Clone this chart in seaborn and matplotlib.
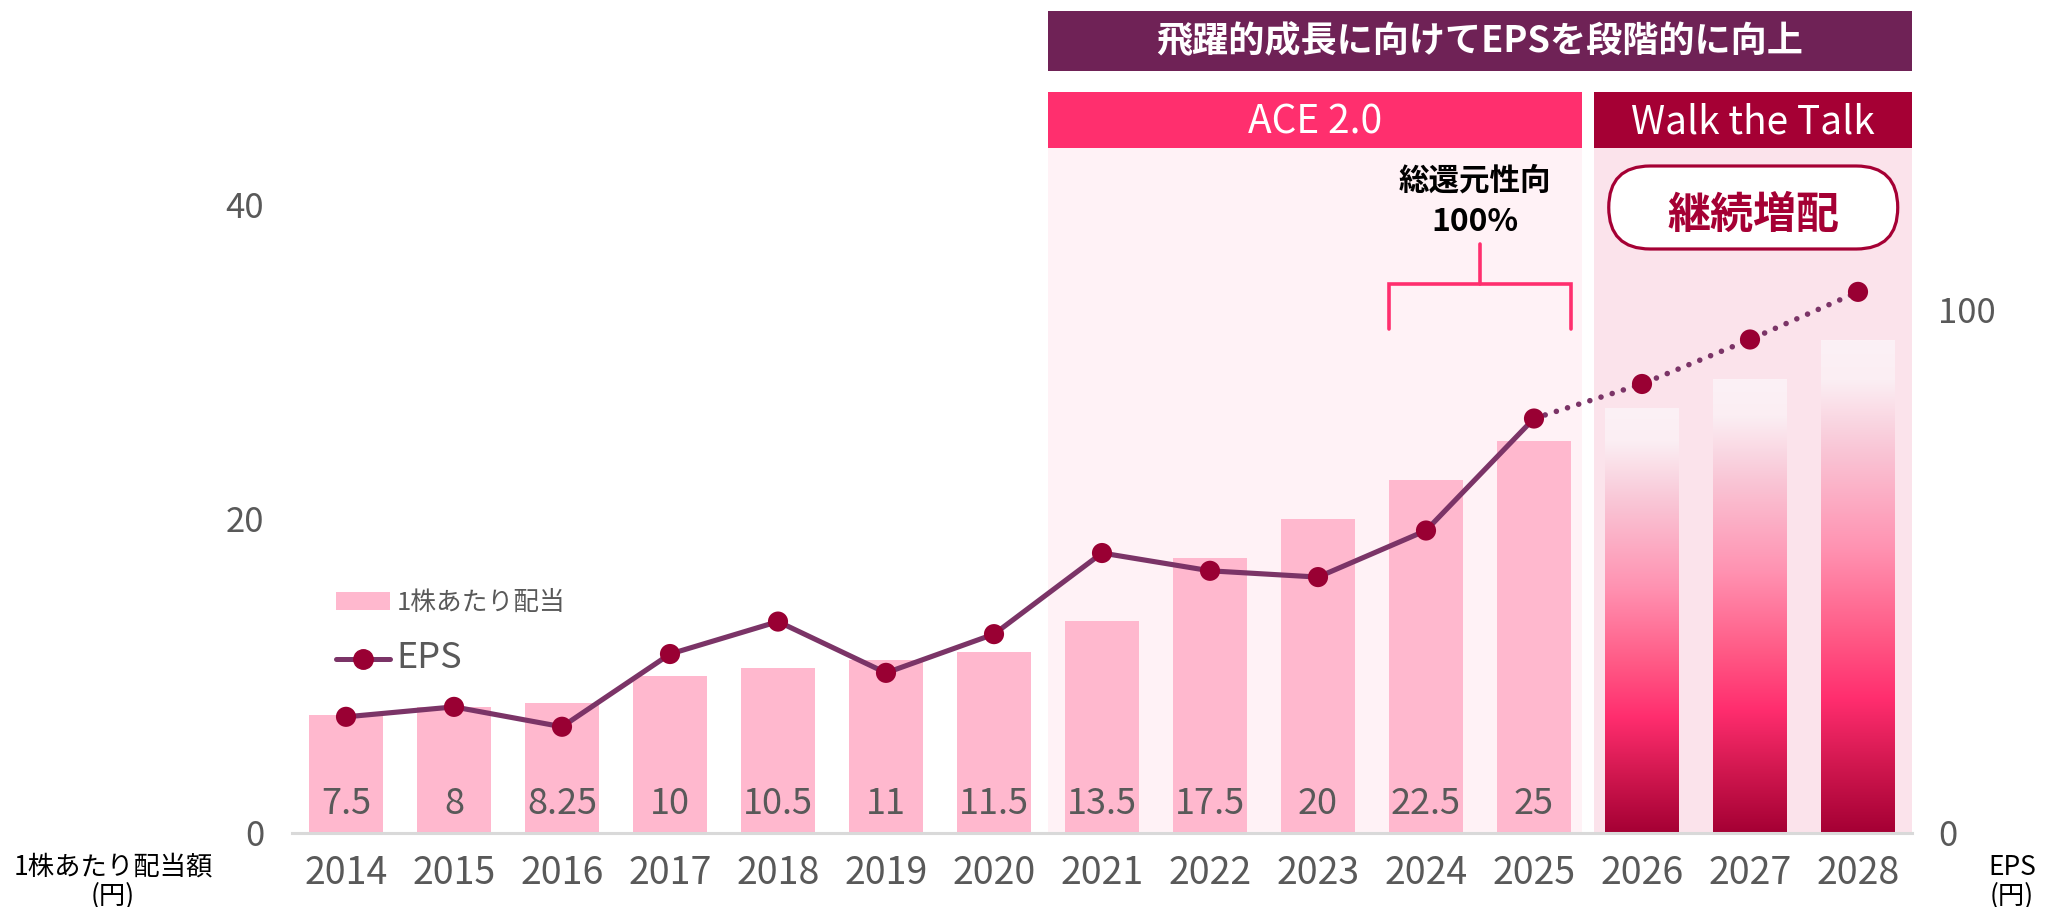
import numpy as np
import matplotlib
matplotlib.use("Agg")
import matplotlib.pyplot as plt
import seaborn as sns
from matplotlib.patches import Rectangle, FancyBboxPatch, Patch
from matplotlib.lines import Line2D
from matplotlib.colors import LinearSegmentedColormap

# ---------------- data ----------------
years = [2014, 2015, 2016, 2017, 2018, 2019, 2020, 2021, 2022, 2023, 2024, 2025, 2026, 2027, 2028]
dividends = [7.5, 8, 8.25, 10, 10.5, 11, 11.5, 13.5, 17.5, 20, 22.5, 25, 27.1, 28.9, 31.4]
dividend_labels = ["7.5", "8", "8.25", "10", "10.5", "11", "11.5", "13.5", "17.5", "20", "22.5", "25"]
eps = [22.2, 24.1, 20.3, 34.2, 40.4, 30.6, 38.0, 53.5, 50.1, 48.9, 57.8, 79.2, 85.8, 94.3, 103.4]
n_actual = 12

title_text = "飛躍的成長に向けてEPSを段階的に向上"
phase_labels = ["ACE 2.0", "Walk the Talk"]
bracket_lines = ["総還元性向", "100%"]
badge_text = "継続増配"
legend_labels = ["1株あたり配当", "EPS"]
left_ticks = [0, 20, 40]
right_ticks = [0, 100]
left_title = "1株あたり配当額\n(円)"
right_title = "EPS\n(円)"

# ---------------- colours ----------------
bar_color = "#FFB8CE"
line_color = "#7B3467"
marker_color = "#990033"
ace_shade = "#FFF2F6"
wtt_shade = "#FBE3EB"
ace_color = "#FF2F6E"
wtt_color = "#A50034"
title_color = "#6F2256"
text_gray = "#595959"

# ---------------- figure ----------------
sns.set_style("white")
plt.rcParams["font.family"] = ["Noto Sans CJK JP", "DejaVu Sans"]

W, H = 2055, 907
fig = plt.figure(figsize=(W / 100, H / 100), dpi=100)
BASE = 833          # baseline pixel row
PX = 15.7           # pixels per left-axis unit
ax = fig.add_axes([292 / W, (H - BASE) / H, 1620 / W, BASE / H])
ytop = BASE / PX


def py(ypx):
    """reference pixel row -> left-axis data value"""
    return (BASE - ypx) / PX


idx = np.arange(len(years))

# bars
sns.barplot(x=years, y=dividends, ax=ax, color=bar_color, width=0.68,
            saturation=1, edgecolor="none", zorder=2)
bars = ax.containers[0]

# gradient for forecast bars
cmap = LinearSegmentedColormap.from_list(
    "grad",
    [(0.0, "#FCF1F6"), (0.08, "#FBEEF3"), (0.22, "#F9C6D6"), (0.42, "#FF93B2"),
     (0.60, "#FF5A86"), (0.73, "#FF2D6E"), (0.86, "#D21850"), (1.0, "#A50034")])
grad = np.linspace(0, 1, 256).reshape(-1, 1)
for bar in list(bars)[n_actual:]:
    x0, w = bar.get_x(), bar.get_width()
    h = bar.get_height()
    im = ax.imshow(grad, cmap=cmap, aspect="auto", origin="upper",
                   extent=(x0, x0 + w, 0, h), zorder=2.1, interpolation="bilinear")
    im.set_clip_path(bar)
    bar.set_facecolor("none")

ax.set_xlim(-0.5, 14.5)
ax.set_ylim(0, ytop)

# shaded periods + banners
ace_x0, ace_x1 = 6.5, 11.44
wtt_x0, wtt_x1 = 11.56, 14.5
ax.add_patch(Rectangle((ace_x0, 0), ace_x1 - ace_x0, py(148), fc=ace_shade, ec="none", zorder=0.5))
ax.add_patch(Rectangle((wtt_x0, 0), wtt_x1 - wtt_x0, py(148), fc=wtt_shade, ec="none", zorder=0.5))
ax.add_patch(Rectangle((ace_x0, py(148)), ace_x1 - ace_x0, py(92) - py(148), fc=ace_color, ec="none", zorder=1))
ax.add_patch(Rectangle((wtt_x0, py(148)), wtt_x1 - wtt_x0, py(92) - py(148), fc=wtt_color, ec="none", zorder=1))
ax.add_patch(Rectangle((ace_x0, py(71)), wtt_x1 - ace_x0, py(10.5) - py(71), fc=title_color, ec="none", zorder=1))

ax.text((ace_x0 + wtt_x1) / 2, py(41), title_text, ha="center", va="center",
        color="white", fontsize=26, fontweight="bold", zorder=3)
ax.text((ace_x0 + ace_x1) / 2, py(122), phase_labels[0], ha="center", va="center",
        color="white", fontsize=28, zorder=3)
ax.text((wtt_x0 + wtt_x1) / 2, py(122), phase_labels[1], ha="center", va="center",
        color="white", fontsize=28, zorder=3)

# value labels inside bars
for i, lab in enumerate(dividend_labels):
    ax.text(i, py(804), lab, ha="center", va="center", fontsize=26, color=text_gray, zorder=3)

# bracket
bl, br, bc = 9.66, 11.34, 10.5
ax.plot([bl, bl, br, br], [py(329), py(284), py(284), py(329)], color=ace_color, lw=2.6,
        solid_joinstyle="miter", zorder=3)
ax.plot([bc, bc], [py(284), py(244)], color=ace_color, lw=2.6, zorder=3)
ax.text(bc - 0.05, py(181), bracket_lines[0], ha="center", va="center", fontsize=22,
        fontweight="bold", color="black", zorder=3)
ax.text(bc - 0.05, py(222), bracket_lines[1], ha="center", va="center", fontsize=23,
        fontweight="bold", color="black", zorder=3)

# axes styling
for s in ["left", "right", "top"]:
    ax.spines[s].set_visible(False)
ax.spines["bottom"].set_color("#D9D9D9")
ax.spines["bottom"].set_linewidth(2.2)
ax.set_xticks(idx)
ax.set_xticklabels([str(y) for y in years])
ax.set_yticks(left_ticks)
ax.tick_params(axis="x", length=0, labelsize=27, labelcolor=text_gray, pad=15)
ax.tick_params(axis="y", length=0, labelsize=25, labelcolor=text_gray, pad=20)
ax.set_xlabel("")
ax.set_ylabel("")
ax.grid(False)

# EPS line on right axis
ax2 = ax.twinx()
sns.lineplot(x=idx[:n_actual], y=eps[:n_actual], ax=ax2, color=line_color, lw=3.7, zorder=4)
sns.lineplot(x=idx[n_actual - 1:], y=eps[n_actual - 1:], ax=ax2, color=line_color, lw=4.0, zorder=4)
dot_line = ax2.lines[-1]
dot_line.set_dashes((0.01, 2.1))
dot_line.set_dash_capstyle("round")
sns.scatterplot(x=idx, y=eps, ax=ax2, color=marker_color, s=14.5 ** 2, edgecolor="none",
                zorder=5, legend=False)
ax2.set_ylim(0, 3 * ytop)
ax2.set_xlim(-0.5, 14.5)
ax2.set_yticks(right_ticks)
ax2.tick_params(axis="y", length=0, labelsize=25, labelcolor=text_gray, pad=19)
for s in ax2.spines.values():
    s.set_visible(False)
ax2.set_xlabel("")
ax2.set_ylabel("")
ax2.grid(False)

# badge "継続増配"
cx, cy = ax.transData.transform(((wtt_x0 + wtt_x1) / 2, py(207.5)))
bw, bh = 289, 83
badge = FancyBboxPatch(((cx - bw / 2) / 100, (cy - bh / 2) / 100), bw / 100, bh / 100,
                       boxstyle=f"round,pad=0,rounding_size={bh / 200}",
                       transform=fig.dpi_scale_trans, fc="white", ec=wtt_color, lw=2.3, zorder=6)
fig.add_artist(badge)
fig.text(cx / W, (cy - 7) / H, badge_text, ha="center", va="center", fontsize=31,
         fontweight="bold", color=wtt_color, zorder=7)

# legend
handles = [Patch(facecolor=bar_color, edgecolor="none"),
           Line2D([], [], color=line_color, lw=3.6, marker="o", markersize=14,
                  markerfacecolor=marker_color, markeredgecolor=marker_color)]
leg = ax.legend(handles, legend_labels, loc="upper left",
                bbox_to_anchor=(336 / W, 1 - 590 / H), bbox_transform=fig.transFigure,
                frameon=False, fontsize=18.5, handlelength=2.1, handletextpad=0.25,
                labelspacing=0.95, borderpad=0, borderaxespad=0, labelcolor=text_gray)
leg.get_texts()[1].set_fontsize(26)

# axis titles
fig.text(113 / W, 1 - 882 / H, left_title, ha="center", va="center", fontsize=19,
         color="black", linespacing=1.1)
fig.text(2012 / W, 1 - 882 / H, right_title, ha="center", va="center", fontsize=19,
         color="black", linespacing=1.1)

fig.savefig("out.png", dpi=100)
